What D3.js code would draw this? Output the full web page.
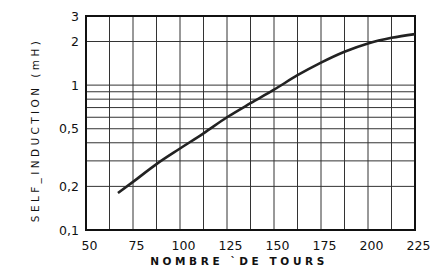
<!DOCTYPE html>
<html>
<head>
<meta charset="utf-8">
<script src="https://cdn.jsdelivr.net/npm/d3@7"></script>
<style>
    body { margin: 0; background: #fff; }
    text { font-family: "DejaVu Sans", sans-serif; fill: #111; }
</style>
</head>
<body>
<div id="chart"></div>
<script>
// Data
const turns = [67, 75, 87.5, 100, 112.5, 125, 137.5, 150, 162.5, 175, 187.5, 200, 212.5, 225];
const inductance = [0.18, 0.215, 0.285, 0.365, 0.465, 0.60, 0.75, 0.93, 1.17, 1.43, 1.70, 1.94, 2.12, 2.25];

const xTicks = [50, 75, 100, 125, 150, 175, 200, 225];
const xGrid = d3.range(50, 226, 12.5);
const yTicks = [0.1, 0.2, 0.5, 1, 2, 3];
const yTickLabels = ["0,1", "0,2", "0,5", "1", "2", "3"];
const yGrid = [0.2, 0.3, 0.4, 0.5, 0.6, 0.7, 0.8, 0.9, 1, 2];

const W = 432, H = 269;
const margin = { top: 16, right: 17, bottom: 39, left: 86 };
const width = W - margin.left - margin.right;
const height = H - margin.top - margin.bottom;

const svg = d3.select("#chart")
    .append("svg")
    .attr("width", W)
    .attr("height", H);

const g = svg.append("g")
    .attr("transform", `translate(${margin.left},${margin.top})`);

const x = d3.scaleLinear()
    .domain([50, 225])
    .range([0, width]);

const y = d3.scaleLog()
    .domain([0.1, 3])
    .range([height, 0]);

// Grid
g.selectAll(".vgrid")
    .data(xGrid)
    .enter()
    .append("line")
    .attr("x1", d => x(d))
    .attr("x2", d => x(d))
    .attr("y1", 0)
    .attr("y2", height)
    .attr("stroke", "#333")
    .attr("stroke-width", 1);

g.selectAll(".hgrid")
    .data(yGrid)
    .enter()
    .append("line")
    .attr("x1", 0)
    .attr("x2", width)
    .attr("y1", d => y(d))
    .attr("y2", d => y(d))
    .attr("stroke", "#333")
    .attr("stroke-width", 1);

// Frame
g.append("rect")
    .attr("width", width)
    .attr("height", height)
    .attr("fill", "none")
    .attr("stroke", "#111")
    .attr("stroke-width", 2);

// Curve
const line = d3.line()
    .x((d, i) => x(turns[i]))
    .y(d => y(d))
    .curve(d3.curveMonotoneX);

g.append("path")
    .datum(inductance)
    .attr("fill", "none")
    .attr("stroke", "#222")
    .attr("stroke-width", 2.6)
    .attr("d", line);

// Axes (labels only)
const xAxis = g.append("g")
    .attr("transform", `translate(0,${height})`)
    .call(d3.axisBottom(x).tickValues(xTicks).tickSize(0).tickPadding(11));

const yAxis = g.append("g")
    .call(d3.axisLeft(y).tickValues(yTicks).tickSize(0).tickPadding(7)
        .tickFormat((d, i) => yTickLabels[i]));

[xAxis, yAxis].forEach(a => {
    a.select(".domain").remove();
    a.selectAll("text")
        .style("font-family", "'DejaVu Sans', sans-serif")
        .style("font-size", "12.5px")
        .attr("fill", "#111");
});
xAxis.selectAll("text").attr("dx", 3);

// Axis titles
svg.append("text")
    .attr("x", 239)
    .attr("y", 265)
    .attr("text-anchor", "middle")
    .style("font-size", "10.5px")
    .style("font-weight", "bold")
    .style("letter-spacing", "3.6px")
    .text("NOMBRE `DE TOURS");

svg.append("text")
    .attr("transform", "rotate(-90)")
    .attr("x", -130)
    .attr("y", 39)
    .attr("text-anchor", "middle")
    .style("font-size", "10.5px")
    .style("letter-spacing", "3.4px")
    .text("SELF_INDUCTION  (mH)");
</script>
</body>
</html>
